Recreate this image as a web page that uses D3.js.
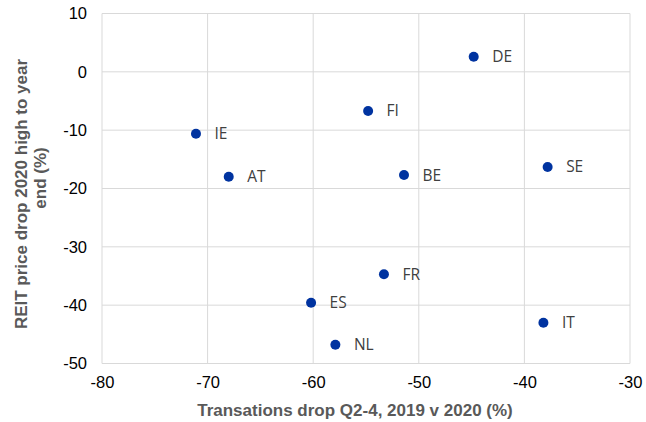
<!DOCTYPE html>
<html>
<head>
<meta charset="utf-8">
<script src="https://cdn.jsdelivr.net/npm/d3@7"></script>
<style>
  html, body { margin: 0; padding: 0; background: #fff; }
  svg { display: block; }
</style>
</head>
<body>
<svg id="chart" width="646" height="422"></svg>
<script>
// Country codes and the two measures for each
const countries = ["DE", "FI", "IE", "AT", "BE", "SE", "FR", "ES", "NL", "IT"];
const transactionsDrop = [-44.8, -54.8, -71.1, -68.0, -51.4, -37.8, -53.3, -60.2, -57.9, -38.2];
const reitPriceDrop = [2.6, -6.7, -10.6, -18.0, -17.7, -16.3, -34.7, -39.6, -46.8, -43.0];

const xTicks = [-80, -70, -60, -50, -40, -30];
const yTicks = [10, 0, -10, -20, -30, -40, -50];

const xTitle = "Transations drop Q2-4, 2019 v 2020 (%)";
const yTitleLines = ["REIT price drop 2020 high to year", "end (%)"];

const svg = d3.select("#chart");
const plot = { left: 102, right: 630, top: 13.5, bottom: 363.5 };

const x = d3.scaleLinear().domain([-80, -30]).range([plot.left, plot.right]);
const y = d3.scaleLinear().domain([-50, 10]).range([plot.bottom, plot.top]);

const gridColor = "#d9d9d9";
const fmt = d => String(d); // plain hyphen-minus

// Horizontal gridlines
svg.append("g")
  .selectAll("line")
  .data(yTicks)
  .join("line")
  .attr("x1", plot.left).attr("x2", plot.right)
  .attr("y1", d => y(d)).attr("y2", d => y(d))
  .attr("stroke", gridColor).attr("stroke-width", 1);

// Vertical gridlines
svg.append("g")
  .selectAll("line")
  .data(xTicks)
  .join("line")
  .attr("y1", plot.top).attr("y2", plot.bottom)
  .attr("x1", d => x(d)).attr("x2", d => x(d))
  .attr("stroke", gridColor).attr("stroke-width", 1);

// Axes (labels only, lines come from the grid)
const xAxis = d3.axisBottom(x).tickValues(xTicks).tickFormat(fmt).tickSize(0).tickPadding(13);
const gx = svg.append("g")
  .attr("transform", `translate(0,${plot.bottom})`)
  .call(xAxis);
gx.select(".domain").remove();
gx.selectAll("text")
  .attr("font-family", "Liberation Sans, Arial, sans-serif")
  .attr("font-size", 16.5)
  .attr("fill", "#000");

const yAxis = d3.axisLeft(y).tickValues(yTicks).tickFormat(fmt).tickSize(0).tickPadding(15);
const gy = svg.append("g")
  .attr("transform", `translate(${plot.left},0)`)
  .call(yAxis);
gy.select(".domain").remove();
gy.selectAll("text")
  .attr("font-family", "Liberation Sans, Arial, sans-serif")
  .attr("font-size", 16.5)
  .attr("fill", "#000");

// Axis titles
svg.append("text")
  .attr("x", 355)
  .attr("y", 416)
  .attr("text-anchor", "middle")
  .attr("font-family", "Liberation Sans, Arial, sans-serif")
  .attr("font-size", 17)
  .attr("font-weight", "bold")
  .attr("fill", "#595959")
  .text(xTitle);

const yTitleCenters = [194, 178];
svg.append("g")
  .selectAll("text")
  .data(yTitleLines)
  .join("text")
  .attr("transform", (d, i) => `translate(${i === 0 ? 27 : 46},${yTitleCenters[i]}) rotate(-90)`)
  .attr("text-anchor", "middle")
  .attr("font-family", "Liberation Sans, Arial, sans-serif")
  .attr("font-size", 17)
  .attr("font-weight", "bold")
  .attr("fill", "#595959")
  .text(d => d);

// Points and labels
const data = countries.map((c, i) => ({ c, x: transactionsDrop[i], y: reitPriceDrop[i] }));

svg.append("g")
  .selectAll("circle")
  .data(data)
  .join("circle")
  .attr("cx", d => x(d.x))
  .attr("cy", d => y(d.y))
  .attr("r", 5)
  .attr("fill", "#0033a0");

svg.append("g")
  .selectAll("text")
  .data(data)
  .join("text")
  .attr("x", d => x(d.x) + 18.5)
  .attr("y", d => y(d.y))
  .attr("dy", "0.36em")
  .attr("font-family", "Open Sans, Noto Sans, sans-serif")
  .attr("font-size", 15.5)
  .attr("fill", "#404040")
  .text(d => d.c);
</script>
</body>
</html>
